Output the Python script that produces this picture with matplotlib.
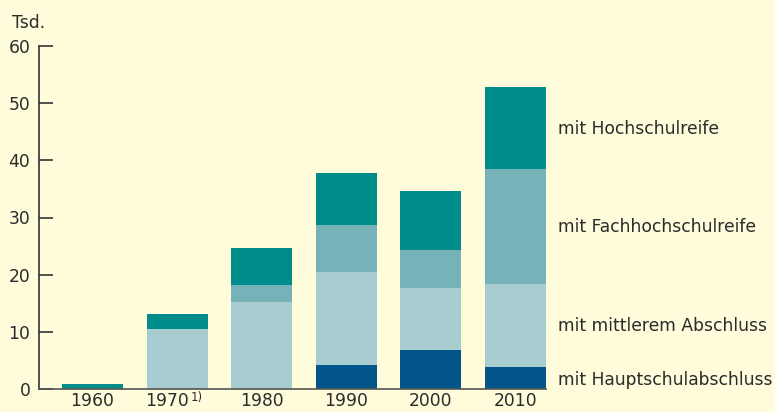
import matplotlib
matplotlib.use("Agg")
import matplotlib.pyplot as plt
import numpy as np

years = ["1960", "1970", "1980", "1990", "2000", "2010"]
haupt = [0.0, 0.0, 0.0, 4.2, 6.8, 3.8]
mittel = [0.0, 10.5, 15.2, 16.3, 10.9, 14.6]
fach = [0.0, 0.0, 3.0, 8.2, 6.6, 20.1]
hoch = [0.9, 2.6, 6.5, 9.1, 10.3, 14.3]
series_labels = ["mit Hauptschulabschluss", "mit mittlerem Abschluss",
                 "mit Fachhochschulreife", "mit Hochschulreife"]
yticks = [0, 10, 20, 30, 40, 50, 60]
footnote_year = "1970"

colors = ["#04568a", "#a7cdd1", "#76b3b9", "#008c8a"]
bg = "#fffcdb"
txt = "#2b2b2b"

plt.rcParams['font.family'] = ['DejaVu Sans']
fs = 12.3

fig = plt.figure(figsize=(7.75, 4.12), dpi=100, facecolor=bg)
ax = fig.add_axes([39.3/775, 23/412, (546-39.3)/775, (389-46)/412])
ax.set_facecolor(bg)

x = np.arange(len(years))
bottom = np.zeros(len(years))
for vals, c in zip([haupt, mittel, fach, hoch], colors):
    ax.bar(x, vals, width=0.72, bottom=bottom, color=c, linewidth=0, zorder=2)
    bottom += np.array(vals)

ax.set_xlim(-0.628, 5.36)
ax.set_ylim(0, 60)
ax.set_yticks(yticks)
ax.set_yticklabels([str(v) for v in yticks], fontsize=fs, color=txt)
ax.tick_params(axis='y', direction='in', length=10, width=1.2, color="#333333", pad=6.5)
ax.set_xticks(x)
pad = 2.3
ax.set_xticklabels([("" if y == footnote_year else y) for y in years], fontsize=fs, color=txt)
ax.tick_params(axis='x', length=0, pad=pad)
for s in ["top", "right"]:
    ax.spines[s].set_visible(False)
ax.spines["left"].set_color("#333333")
ax.spines["left"].set_linewidth(1.2)
ax.spines["bottom"].set_color("#555555")
ax.spines["bottom"].set_linewidth(1.2)
ax.spines["bottom"].set_zorder(3)

# 1970 label with superscript footnote, centred as a whole
i70 = years.index(footnote_year)
ax.annotate(footnote_year, xy=(i70, 0), xycoords=('data', 'axes fraction'),
            xytext=(8.8, -pad), textcoords='offset points', fontsize=fs,
            color=txt, ha='right', va='top', annotation_clip=False)
ax.annotate("1)", xy=(i70, 0), xycoords=('data', 'axes fraction'),
            xytext=(9.6, -1.5), textcoords='offset points', fontsize=8.5,
            color=txt, ha='left', va='top', annotation_clip=False)

fig.text(12/775, 1 - 28/412, "Tsd.", fontsize=fs, color=txt, ha='left', va='baseline')

label_base = [385, 330.7, 231.7, 134]
for lab, yy in zip(series_labels, label_base):
    fig.text(558/775, 1 - yy/412, lab, fontsize=fs, color=txt, ha='left', va='baseline')

fig.savefig("out.png", dpi=100, facecolor=bg)
